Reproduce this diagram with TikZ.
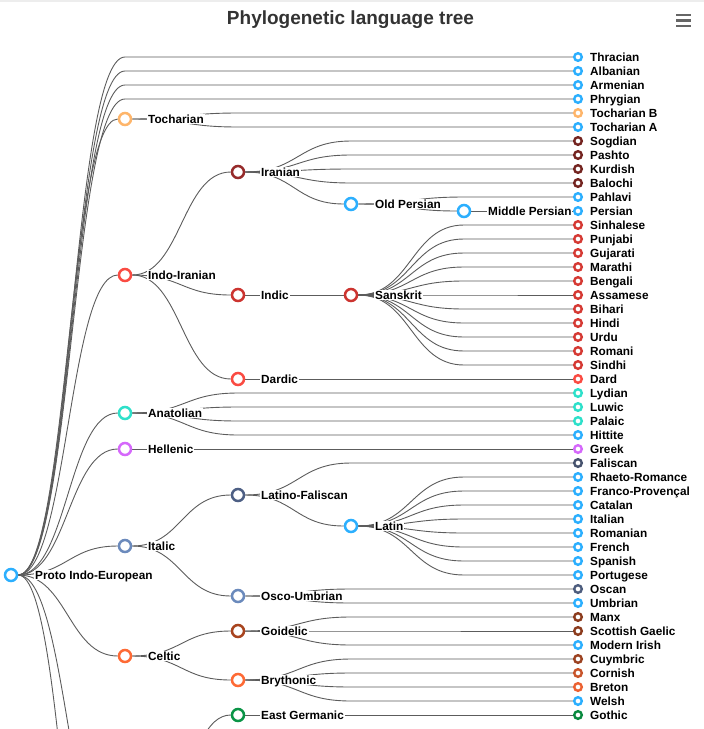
\documentclass[tikz,border=0pt]{standalone}
\usepackage{fontspec}
\setmainfont{Liberation Sans}
\usetikzlibrary{backgrounds}
\definecolor{cblue}{HTML}{2CAFFE}
\definecolor{ctoch}{HTML}{FEB56A}
\definecolor{cii}{HTML}{FA4B42}
\definecolor{ciran}{HTML}{962B2B}
\definecolor{ciranl}{HTML}{742521}
\definecolor{cindic}{HTML}{CC3430}
\definecolor{csanl}{HTML}{D53A34}
\definecolor{cana}{HTML}{2EE0CA}
\definecolor{chel}{HTML}{D568FB}
\definecolor{cital}{HTML}{6B8ABC}
\definecolor{clatf}{HTML}{4D5F84}
\definecolor{cfal}{HTML}{47536E}
\definecolor{cosc}{HTML}{4E5D7E}
\definecolor{ccelt}{HTML}{FE6A35}
\definecolor{cgoid}{HTML}{A8441F}
\definecolor{cmanx}{HTML}{8C3C1E}
\definecolor{ccuy}{HTML}{9C4322}
\definecolor{ccorn}{HTML}{C8552B}
\definecolor{cbret}{HTML}{EC6232}
\definecolor{cgerm}{HTML}{00E272}
\definecolor{ceger}{HTML}{0A9446}
\definecolor{cgoth}{HTML}{0A8A40}
\definecolor{cbsl}{HTML}{544FC5}
\definecolor{linkgray}{HTML}{5C5C5C}
\definecolor{ttl}{HTML}{333333}
\definecolor{menu}{HTML}{666666}
\newcommand\labfont{\fontsize{11.8}{13}\selectfont\bfseries}
\newcommand\lkn[2]{\draw[lnk] (#1.east) .. controls +(49,0) and +(-49,0) .. (#2.west);}
\newcommand\lkd[3]{\draw[lnk] (#1.east) .. controls +(53,0) and +(-53,0) .. (#3 -| #2,0) -- (#3.west);}
\begin{document}
\begin{tikzpicture}[x=1pt,y=-1pt,
  inode/.style={circle, draw=#1, fill=white, line width=2.5pt, minimum size=12pt, inner sep=0pt},
  leaf/.style={circle, draw=#1, fill=white, line width=2.4pt, minimum size=7.6pt, inner sep=0pt},
  lnk/.style={draw=linkgray, line width=0.9pt},
  ilab/.style={anchor=west, fill=white, inner sep=1pt, font=\labfont, text height=8.4pt, text depth=0pt},
  llab/.style={anchor=west, inner sep=1pt, font=\labfont, text height=8.4pt, text depth=0pt}]
\useasboundingbox (0,0) rectangle (704,729);
\clip (0,0) rectangle (704,729);
\draw[black!7, line width=1.5pt] (0,0.75) -- (704,0.75);
% title and menu
\node[font=\fontsize{19}{22}\selectfont\bfseries, text=ttl] (title) at (350.5,19.5) {Phylogenetic language tree};
\draw[menu, line width=2.4pt] (676,15) -- (691,15) (676,20.5) -- (691,20.5) (676,26) -- (691,26);
% leaves
\foreach \t/\c [count=\i from 0] in {Thracian/cblue, Albanian/cblue, Armenian/cblue, Phrygian/cblue,
  Tocharian B/ctoch, Tocharian A/cblue, Sogdian/ciranl, Pashto/ciranl, Kurdish/ciranl, Balochi/ciranl,
  Pahlavi/cblue, Persian/cblue, Sinhalese/csanl, Punjabi/csanl, Gujarati/csanl, Marathi/csanl,
  Bengali/csanl, Assamese/csanl, Bihari/csanl, Hindi/csanl, Urdu/csanl, Romani/csanl, Sindhi/csanl,
  Dard/cii, Lydian/cana, Luwic/cana, Palaic/cana, Hittite/cblue, Greek/chel, Faliscan/cfal,
  Rhaeto-Romance/cblue, Franco-Provençal/cblue, Catalan/cblue, Italian/cblue, Romanian/cblue,
  French/cblue, Spanish/cblue, Portugese/cblue, Oscan/cosc, Umbrian/cblue, Manx/cmanx,
  Scottish Gaelic/cmanx, Modern Irish/cblue, Cuymbric/ccuy, Cornish/ccorn, Breton/cbret,
  Welsh/cblue, Gothic/cgoth}
{
  \node[leaf=\c] (L\i) at (578,{57+14*\i}) {};
  \node[llab] (T\i) at (589,{57+14*\i}) {\t};
}
% internal nodes
\node[inode=cblue] (root) at (11,575) {};
\node[inode=ctoch] (toch) at (125,119) {};
\node[inode=cii] (indoir) at (125,275) {};
\node[inode=cana] (anat) at (125,413) {};
\node[inode=chel] (hell) at (125,449) {};
\node[inode=cital] (ital) at (125,546) {};
\node[inode=ccelt] (celt) at (125,656) {};
\node[inode=cgerm] (germ) at (125,874) {};
\node[inode=cbsl] (bsl) at (125,1093) {};
\node[inode=ciran] (iran) at (238,172) {};
\node[inode=cindic] (indic) at (238,295) {};
\node[inode=cii] (dardic) at (238,379) {};
\node[inode=clatf] (latf) at (238,495) {};
\node[inode=cital] (osco) at (238,596) {};
\node[inode=cgoid] (goid) at (238,631) {};
\node[inode=ccelt] (bryth) at (238,680) {};
\node[inode=ceger] (eger) at (238,715) {};
\node[inode=cblue] (oldp) at (351,204) {};
\node[inode=cindic] (sans) at (351,295) {};
\node[inode=cblue] (latin) at (351,526) {};
\node[inode=cblue] (midp) at (464,211) {};
% internal labels
\node[ilab] (root-l) at (34,575) {Proto Indo-European};
\node[ilab] (toch-l) at (147,119) {Tocharian};
\node[ilab] (indoir-l) at (147,275) {Indo-Iranian};
\node[ilab] (anat-l) at (147,413) {Anatolian};
\node[ilab] (hell-l) at (147,449) {Hellenic};
\node[ilab] (ital-l) at (147,546) {Italic};
\node[ilab] (celt-l) at (147,656) {Celtic};
\node[ilab] (iran-l) at (260,172) {Iranian};
\node[ilab] (indic-l) at (260,295) {Indic};
\node[ilab] (dardic-l) at (260,379) {Dardic};
\node[ilab] (latf-l) at (260,495) {Latino-Faliscan};
\node[ilab] (osco-l) at (260,596) {Osco-Umbrian};
\node[ilab] (goid-l) at (260,631) {Goidelic};
\node[ilab] (bryth-l) at (260,680) {Brythonic};
\node[ilab] (eger-l) at (260,715) {East Germanic};
\node[ilab] (oldp-l) at (374,204) {Old Persian};
\node[ilab] (sans-l) at (374,295) {Sanskrit};
\node[ilab] (latin-l) at (374,526) {Latin};
\node[ilab] (midp-l) at (487,211) {Middle Persian};
% links
\begin{scope}[on background layer]
\foreach \k in {0,1,2,3} {\lkd{root}{125}{L\k}}
\foreach \k in {toch,indoir,anat,hell,ital,celt,germ,bsl} {\lkn{root}{\k}}
\foreach \k in {4,5} {\lkd{toch}{238}{L\k}}
\foreach \k in {iran,indic,dardic} {\lkn{indoir}{\k}}
\foreach \k in {6,7,8,9} {\lkd{iran}{351}{L\k}}
\lkn{iran}{oldp}
\lkd{oldp}{464}{L10}
\lkn{oldp}{midp}
\draw[lnk] (midp.east) -- (L11.west);
\lkn{indic}{sans}
\foreach \k in {12,...,22} {\lkd{sans}{464}{L\k}}
\draw[lnk] (dardic.east) -- (L23.west);
\foreach \k in {24,25,26,27} {\lkd{anat}{238}{L\k}}
\draw[lnk] (hell.east) -- (L28.west);
\lkn{ital}{latf}
\lkn{ital}{osco}
\lkd{latf}{351}{L29}
\lkn{latf}{latin}
\foreach \k in {30,...,37} {\lkd{latin}{464}{L\k}}
\foreach \k in {38,39} {\lkd{osco}{351}{L\k}}
\lkn{celt}{goid}
\lkn{celt}{bryth}
\foreach \k in {40,41,42} {\lkd{goid}{351}{L\k}}
\foreach \k in {43,44,45,46} {\lkd{bryth}{351}{L\k}}
\lkn{germ}{eger}
\draw[lnk] (eger.east) -- (L47.west);
\end{scope}
\end{tikzpicture}
\end{document}
